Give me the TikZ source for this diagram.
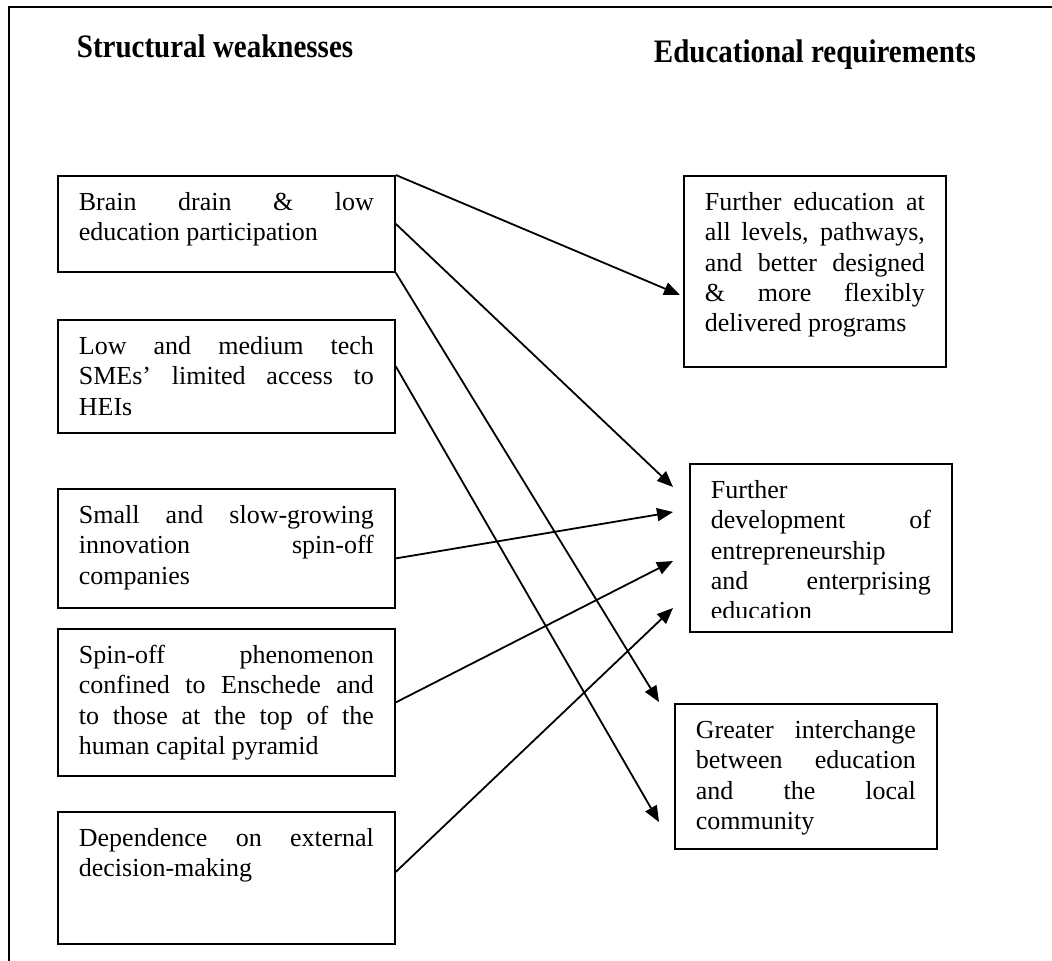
\documentclass[tikz,border=0pt]{standalone}
\usepackage{fontspec}
\setmainfont{Liberation Serif}
\usetikzlibrary{arrows.meta}

% fixed-size text block: width, height in px, text
\newcommand{\boxtext}[3]{\parbox[c][\dimexpr #2pt/2-13.2pt\relax][t]{#1}{\tolerance=10000\hbadness=10000\vbadness=10000\strut #3}}

\begin{document}
\begin{tikzpicture}[x=0.5pt, y=-0.5pt, line width=0.9pt,
  txtbox/.style={draw, anchor=north west, inner xsep=10.5pt, inner ysep=6.6pt, font=\fontsize{13}{15.2}\selectfont},
  head/.style={anchor=base west, inner sep=0pt, font=\bfseries\fontsize{14.5}{17}\selectfont},
  link/.style={-{Triangle[length=8pt,width=6.5pt]}}]
\useasboundingbox (0,0) rectangle (1052,961);
\draw (9,961) -- (9,7) -- (1052,7);

\node[head] (weakhead) at (76,58) {\scalebox{1}[1.13]{Structural weaknesses}};
\node[head] (reqhead) at (653,63) {\scalebox{1}[1.13]{Educational requirements}};

% structural weaknesses
\node[txtbox] (brain) at (57,175) {\boxtext{147.5pt}{96}{Brain drain \& low\linebreak education participation}};
\node[txtbox] (smes) at (57,319) {\boxtext{147.5pt}{113}{Low and medium tech\linebreak SMEs' limited access to\linebreak HEIs}};
\node[txtbox] (spinoff) at (57,488) {\boxtext{147.5pt}{119}{Small and slow-growing\linebreak innovation spin-off\linebreak companies}};
\node[txtbox] (enschede) at (57,628) {\boxtext{147.5pt}{147}{Spin-off phenomenon\linebreak confined to Enschede and\linebreak to those at the top of the\linebreak human capital pyramid}};
\node[txtbox] (extern) at (57,811) {\boxtext{147.5pt}{132}{Dependence on external\linebreak decision-making}};

% educational requirements
\node[txtbox] (further) at (683,175) {\boxtext{110pt}{191}{Further education at\linebreak all levels, pathways,\linebreak and better designed\linebreak \& more flexibly\linebreak delivered programs}};
\node[txtbox] (entrep) at (689,463) {\boxtext{110pt}{168}{}};
\begin{scope}
\clip (entrep.north west) rectangle ([yshift=7.5pt]entrep.south east);
\node[txtbox, draw=none] (entreptext) at (689,463) {\boxtext{110pt}{168}{Further\newline development of\linebreak entrepreneurship\newline and enterprising\linebreak education}};
\end{scope}
\node[txtbox] (interch) at (674,703) {\boxtext{110pt}{145}{Greater interchange\linebreak between education\linebreak and the local\linebreak community}};

\coordinate (tipa) at (680,295);
\coordinate (tipb) at (673,487);
\coordinate (tipc) at (659,702);
\coordinate (tipd) at (659,822);
\coordinate (tipe) at (673,512);
\coordinate (tipf) at (673,561);
\coordinate (tipg) at (673,608);

\draw[link] (brain.north east) -- (tipa);
\draw[link] (brain.east) -- (tipb);
\draw[link] (brain.south east) -- (tipc);
\draw[link] ([yshift=5pt]smes.east) -- (tipd);
\draw[link] ([yshift=-5pt]spinoff.east) -- (tipe);
\draw[link] (enschede.east) -- (tipf);
\draw[link] ([yshift=3pt]extern.east) -- (tipg);
\end{tikzpicture}
\end{document}
